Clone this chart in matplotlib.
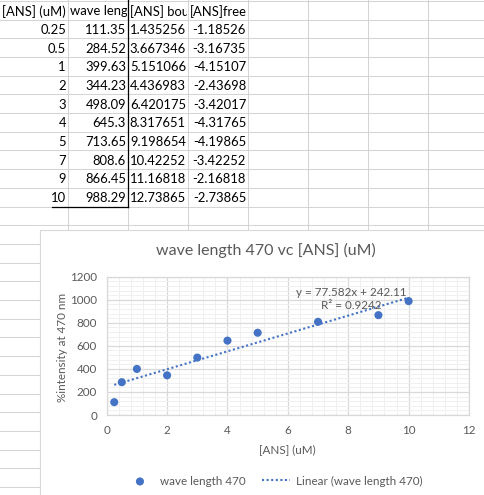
import numpy as np
import matplotlib
matplotlib.use("Agg")
import matplotlib.pyplot as plt
from matplotlib.patches import Rectangle
from matplotlib.ticker import MultipleLocator

plt.rcParams['font.family'] = ['Lato', 'DejaVu Sans']

# spreadsheet values
headers = ["[ANS] (uM)", "wave length 470", "[ANS] bound", "[ANS]free"]
ans_conc = [0.25, 0.5, 1, 2, 3, 4, 5, 7, 9, 10]
intensity = [111.35, 284.52, 399.63, 344.23, 498.09, 645.3, 713.65, 808.6, 866.45, 988.29]
ans_bound = [1.435256, 3.667346, 5.151066, 4.436983, 6.420175, 8.317651, 9.198654, 10.42252, 11.16818, 12.73865]
ans_free = [-1.18526, -3.16735, -4.15107, -2.43698, -3.42017, -4.31765, -4.19865, -3.42252, -2.16818, -2.73865]

chart_title = "wave length 470 vc [ANS] (uM)"
series_name = "wave length 470"
eq_text = "y = 77.582x + 242.11"
r2_text = "R² = 0.9242"

W, H = 484, 495
fig = plt.figure(figsize=(W / 100, H / 100), dpi=100)

# --- sheet background, in pixel coords ---
bg = fig.add_axes([0, 0, 1, 1])
bg.set_xlim(0, W)
bg.set_ylim(H, 0)
bg.axis("off")

grid_col = "#D4D4D4"
col_edges = [0, 68, 128, 188, 248, 308, 368, 428, 488]
row_edges = [0.8 + 18.7 * k for k in range(27)]

for y in row_edges:
    bg.plot([0, W], [y, y], color=grid_col, lw=0.75, zorder=1)
for x in col_edges[1:-1]:
    bg.plot([x, x], [0, H], color=grid_col, lw=0.75, zorder=1)

# dark borders around the data block
bg.plot([128, 128], [0, row_edges[11]], color="black", lw=0.9, zorder=2)
bg.plot([52, 128], [row_edges[11], row_edges[11]], color="black", lw=0.9, zorder=2)

cell_fs = 9.4
for j, h in enumerate(headers):
    y = (row_edges[0] + row_edges[1]) / 2 + 1
    t = bg.text(col_edges[j] + 2, y, h, ha="left", va="center", fontsize=cell_fs,
                zorder=3, clip_on=True)
    clip = Rectangle((col_edges[j], row_edges[0]), col_edges[j + 1] - col_edges[j] - 1,
                     row_edges[1] - row_edges[0], transform=bg.transData)
    t.set_clip_path(clip)

columns = [ans_conc, intensity, ans_bound, ans_free]
for i in range(len(ans_conc)):
    y = (row_edges[i + 1] + row_edges[i + 2]) / 2 + 1
    for j, col in enumerate(columns):
        bg.text(col_edges[j + 1] - 2, y, str(col[i]), ha="right", va="center",
                fontsize=cell_fs, zorder=3)

# chart box
bg.add_patch(Rectangle((39.5, 230), 470, 280, facecolor="white", edgecolor="#D9D9D9",
                       lw=0.8, zorder=10))

# --- chart ---
px_l, px_r, px_b, px_t = 106.7, 469, 415, 276.7
ax = fig.add_axes([px_l / W, 1 - px_b / H, (px_r - px_l) / W, (px_b - px_t) / H])
ax.set_zorder(5)
ax.patch.set_alpha(0)

x = np.array(ans_conc)
y = np.array(intensity)
slope, intercept = np.polyfit(x, y, 1)
xfit = np.array([x.min(), x.max()])

blue = "#4472C4"
gray_txt = "#595959"
small_fs = 8.4

ax.scatter(x, y, s=34, color=blue, zorder=4, label=series_name, edgecolors="none")
ax.plot(xfit, slope * xfit + intercept, color=blue, lw=1.5, linestyle=(0, (1, 1.2)),
        zorder=3, label="Linear (" + series_name + ")")

ax.set_xlim(0, 12)
ax.set_ylim(0, 1200)
ax.xaxis.set_major_locator(MultipleLocator(2))
ax.xaxis.set_minor_locator(MultipleLocator(0.4))
ax.yaxis.set_major_locator(MultipleLocator(200))
ax.yaxis.set_minor_locator(MultipleLocator(40))
ax.grid(True, which="major", color="#D9D9D9", lw=0.9)
ax.grid(True, which="minor", color="#F0F0F0", lw=0.7)
ax.set_axisbelow(True)
for s in ax.spines.values():
    s.set_color("#D9D9D9")
    s.set_linewidth(0.9)
ax.tick_params(which="both", length=0, labelsize=small_fs, colors=gray_txt)
ax.tick_params(axis="y", pad=7)
ax.tick_params(axis="x", pad=7)

ax.text(8.1, 1061, eq_text, ha="center", va="center", fontsize=small_fs, color=gray_txt, zorder=5)
ax.text(8.1, 946, r2_text, ha="center", va="center", fontsize=small_fs, color=gray_txt, zorder=5)

fig.text(266 / W, 1 - 250 / H, chart_title, ha="center", va="center", fontsize=11.5,
         color=gray_txt, zorder=20)
fig.text(287 / W, 1 - 450 / H, "[ANS] (uM)", ha="center", va="center", fontsize=small_fs,
         color=gray_txt, zorder=20)
fig.text(63 / W, 1 - 347 / H, "%intensity at 470 nm", ha="center", va="center",
         rotation=90, fontsize=small_fs, color=gray_txt, zorder=20)

leg = ax.legend(loc="center", bbox_to_anchor=(274 / W, 1 - 481 / H),
                bbox_transform=fig.transFigure, ncol=2, frameon=False, fontsize=small_fs,
                handlelength=2.4, columnspacing=1.4, handletextpad=0.5)
for t in leg.get_texts():
    t.set_color(gray_txt)

fig.savefig("out.png", dpi=100)
